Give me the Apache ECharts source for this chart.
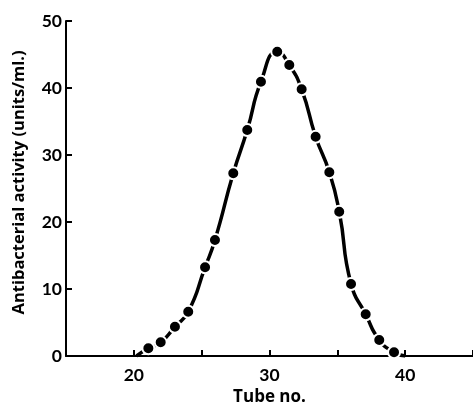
<!DOCTYPE html>
<html>
<head>
<meta charset="utf-8">
<script src="https://cdn.jsdelivr.net/npm/echarts@6/dist/echarts.min.js"></script>
<style>
  html, body { margin: 0; padding: 0; background: #fff; }
  #chart { width: 473px; height: 405px; }
</style>
</head>
<body>
<div id="chart"></div>
<script>
const tube_no = [21.07, 21.98, 23.03, 24.01, 25.25, 25.98, 27.33, 28.36, 29.37, 30.57,
    31.46, 32.37, 33.40, 34.41, 35.14, 36.01, 37.09, 38.09, 39.18];
const activity = [1.15, 2.04, 4.37, 6.61, 13.24, 17.31, 27.27, 33.73, 40.94, 45.42,
    43.43, 39.81, 32.73, 27.42, 21.54, 10.75, 6.22, 2.39, 0.55];
// where the drawn curve meets the axis
const curve_start = [20.2, 0];
const curve_end = [40.0, 0];
const x_labels = [20, 30, 40];

const font = 'Lato';
const name_font = 'Open Sans';
let chart = echarts.init(document.getElementById('chart'));

let points = tube_no.map((x, i) => [x, activity[i]]);
let curve = [curve_start, ...points, curve_end];

chart.setOption({
    animation: false,
    backgroundColor: '#fff',
    grid: { left: 66, right: 0, top: 21, bottom: 49, outerBoundsMode: 'none' },
    xAxis: {
        type: 'value',
        min: 15, max: 45, interval: 5,
        name: 'Tube no.',
        nameLocation: 'middle',
        nameGap: 30,
        nameTextStyle: { color: '#000', fontFamily: name_font, fontWeight: 'bold', fontSize: 17 },
        axisLine: { lineStyle: { color: '#000', width: 2 } },
        axisTick: { inside: true, length: 6, lineStyle: { color: '#000', width: 2 } },
        axisLabel: {
            color: '#000', fontFamily: font, fontWeight: 'bold', fontSize: 17.5, margin: 10,
            formatter: v => x_labels.includes(v) ? String(v) : ''
        },
        splitLine: { show: false }
    },
    yAxis: {
        type: 'value',
        min: 0, max: 50, interval: 10,
        name: 'Antibacterial activity (units/ml.)',
        nameLocation: 'middle',
        nameGap: 38,
        nameTextStyle: { color: '#000', fontFamily: name_font, fontWeight: 'bold', fontSize: 16.5, padding: [0, 0, 0, 12] },
        axisLine: { show: true, lineStyle: { color: '#000', width: 2 } },
        axisTick: { show: true, inside: true, length: 6, lineStyle: { color: '#000', width: 2 } },
        axisLabel: { color: '#000', fontFamily: font, fontWeight: 'bold', fontSize: 17.5, margin: 4 },
        splitLine: { show: false }
    },
    series: [
        {
            type: 'line',
            data: curve,
            smooth: 0.55,
            symbol: 'none',
            lineStyle: { color: '#000', width: 3.5 },
            z: 2
        },
        {
            type: 'scatter',
            data: points,
            symbol: 'circle',
            symbolSize: 12,
            itemStyle: { color: '#000', borderColor: '#fff', borderWidth: 2, opacity: 1 },
            z: 3
        }
    ]
});
</script>
</body>
</html>
